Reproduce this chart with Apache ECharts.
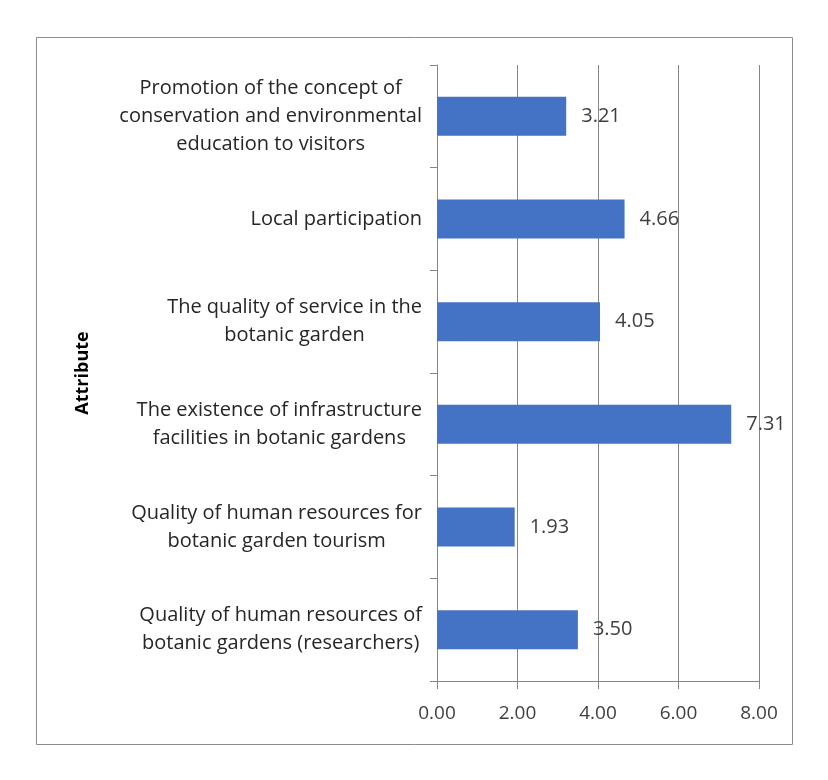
<!DOCTYPE html>
<html>
<head>
<meta charset="utf-8">
<script src="https://cdn.jsdelivr.net/npm/echarts@6/dist/echarts.min.js"></script>
<style>
  html, body { margin: 0; padding: 0; background: #fff; }
  #main { width: 828px; height: 780px; }
</style>
</head>
<body>
<div id="main"></div>
<script>
// categories top to bottom
var attributes = [
  'Promotion of the concept of\nconservation and environmental\neducation to visitors',
  'Local participation',
  'The quality of service in the\nbotanic garden',
  'The existence of infrastructure\nfacilities in botanic gardens',
  'Quality of human resources for\nbotanic garden tourism',
  'Quality of human resources of\nbotanic gardens (researchers)'
]
var scores = [3.21, 4.66, 4.05, 7.31, 1.93, 3.50]
var xTicks = [0, 2, 4, 6, 8]

var chart = echarts.init(document.getElementById('main'), null, { renderer: 'canvas' })
var font = '"Open Sans", "Noto Sans", sans-serif'
var axisGray = '#868686'

var option = {
  backgroundColor: '#fff',
  animation: false,
  textStyle: { fontFamily: font },
  graphic: [{
    type: 'rect',
    shape: { x: 36.5, y: 37.5, width: 756, height: 707 },
    style: { fill: 'none', stroke: '#8c8c8c', lineWidth: 1 },
    silent: true
  }],
  grid: {
    left: 437,
    right: 828 - 759,
    top: 65,
    bottom: 780 - 681
  },
  xAxis: {
    type: 'value',
    min: xTicks[0],
    max: xTicks[xTicks.length - 1],
    interval: 2,
    axisLine: { show: true, lineStyle: { color: axisGray, width: 1 } },
    axisTick: { show: true, length: 8, lineStyle: { color: axisGray } },
    splitLine: { show: true, lineStyle: { color: axisGray, width: 1 } },
    axisLabel: {
      color: '#404040',
      fontSize: 19,
      fontFamily: font,
      margin: 23,
      formatter: function (v) { return v.toFixed(2) }
    }
  },
  yAxis: {
    type: 'category',
    inverse: true,
    data: attributes,
    name: 'Attribute',
    nameLocation: 'middle',
    nameRotate: 90,
    nameGap: 345,
    nameTextStyle: { fontWeight: 'bold', fontSize: 18, color: '#000', fontFamily: font },
    axisLine: { show: true, lineStyle: { color: axisGray, width: 1 } },
    axisTick: { show: true, length: 7, lineStyle: { color: axisGray } },
    axisLabel: {
      margin: 15,
      formatter: function (v) { return '{c|' + v + '}' },
      rich: {
        c: { align: 'center', fontSize: 20, lineHeight: 28, color: '#262626', fontFamily: font }
      }
    }
  },
  series: [{
    type: 'bar',
    data: scores,
    barCategoryGap: '62%',
    itemStyle: { color: '#4472C4' },
    label: {
      show: true,
      position: 'right',
      distance: 15,
      color: '#404040',
      fontSize: 20,
      fontFamily: font,
      formatter: function (p) { return p.value.toFixed(2) }
    }
  }]
}

chart.setOption(option)
</script>
</body>
</html>
